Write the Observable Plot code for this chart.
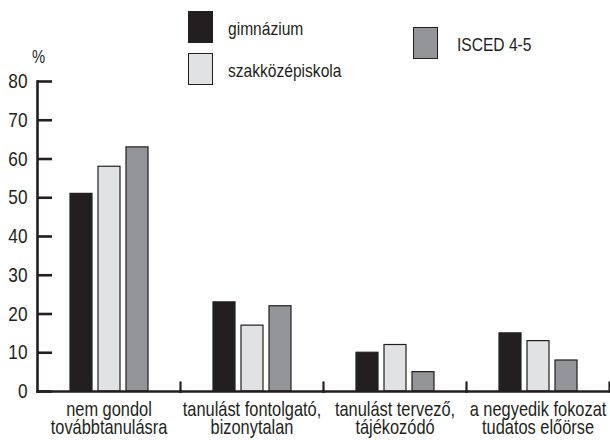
<!DOCTYPE html>
<html><head><meta charset="utf-8">
<script src="https://cdn.jsdelivr.net/npm/d3@7"></script>
<script src="https://cdn.jsdelivr.net/npm/@observablehq/plot@0.6"></script>
<style>
body{margin:0;background:#fff;font-family:"Liberation Sans",Arial,sans-serif;color:#231f20;}
#wrap{position:relative;width:610px;height:440px;}
#chart{position:absolute;left:0;top:0;}
.item{position:absolute;display:flex;align-items:center;font-size:19px;white-space:nowrap;}
.sw{width:23px;height:30px;border:1.5px solid #231f20;box-sizing:content-box;}
.lab{display:inline-block;transform:scaleX(0.82);transform-origin:left center;padding-top:3px;}
#unit{position:absolute;left:32px;top:47px;font-size:18px;transform:scaleX(0.82);transform-origin:left center;}
</style></head><body>
<div id="wrap"><div id="chart"></div><div id="unit">%</div></div>
<script>
const categories = ["nem gondol\ntovábbtanulásra","tanulást fontolgató,\nbizonytalan","tanulást tervező,\ntájékozódó","a negyedik fokozat\ntudatos előörse"];
const series = ["gimnázium","szakközépiskola","ISCED 4-5"];
const gimnazium = [51,23,10,15];
const szakkozep = [58,17,12,13];
const isced = [63,22,5,8];
const yTicks = [0,10,20,30,40,50,60,70,80];
const colors = ["#231f20","#e1e2e4","#939598"];
const ink = "#231f20";

const values = [gimnazium, szakkozep, isced];
const data = [];
categories.forEach((c,i)=>series.forEach((s,j)=>data.push({cat:c,series:s,value:values[j][i]})));

const W = 610, mL = 37, mR = 1;
const facetW = (W - mL - mR) / categories.length;

const chart = Plot.plot({
  width:W, height:440,
  marginTop:81, marginBottom:49, marginLeft:mL, marginRight:mR,
  style:{fontFamily:'"Liberation Sans",Arial,sans-serif'},
  fx:{domain:categories, padding:0, label:null},
  x:{domain:series, paddingInner:0.23, paddingOuter:1.1, axis:null},
  y:{domain:[0,80], label:null},
  color:{domain:series, range:colors},
  marks:[
    Plot.barY(data,{fx:"cat", x:"series", y:"value", fill:"series", stroke:ink, strokeWidth:1.2}),
    Plot.frame({anchor:"bottom", stroke:ink, strokeWidth:2.6}),
    Plot.frame({anchor:"left", facetAnchor:"left", stroke:ink, strokeWidth:2.6}),
    Plot.frame({anchor:"right", insetTop:301, stroke:ink, strokeWidth:2.2}),
    Plot.ruleY(yTicks,{y:d=>d, facetAnchor:"left", insetRight:facetW-15, stroke:ink, strokeWidth:2.6}),
    Plot.axisY(yTicks,{anchor:"left", tickSize:0, tickPadding:10, fontSize:21, fill:ink, label:null, tickFormat:d=>d}),
    Plot.axisFx({anchor:"bottom", tickSize:0, tickPadding:11, fontSize:20, fill:ink, lineHeight:0.92, label:null})
  ]
});
// condense the text horizontally (narrow grotesque look)
chart.querySelectorAll("text").forEach(t=>{
  const tr = t.getAttribute("transform");
  if (tr) t.setAttribute("transform", tr + " scale(0.82,1)");
  else {
    const x = +(t.getAttribute("x")||0), y = +(t.getAttribute("y")||0);
    t.removeAttribute("x"); t.removeAttribute("y");
    t.setAttribute("transform", `translate(${x},${y}) scale(0.82,1)`);
  }
});
document.getElementById("chart").appendChild(chart);

const pos = [{l:188,t:11,tx:41},{l:188,t:53,tx:41},{l:413,t:27,tx:45}];
const wrap = document.getElementById("wrap");
series.forEach((s,j)=>{
  const it = document.createElement("div");
  it.className="item";
  it.style.left = pos[j].l+"px"; it.style.top = pos[j].t+"px";
  const sw = document.createElement("div");
  sw.className="sw"; sw.style.background = colors[j];
  sw.style.marginRight = (pos[j].tx-26)+"px";
  const tx = document.createElement("span"); tx.className="lab"; tx.textContent = s;
  it.appendChild(sw); it.appendChild(tx);
  wrap.appendChild(it);
});
</script>
</body></html>
